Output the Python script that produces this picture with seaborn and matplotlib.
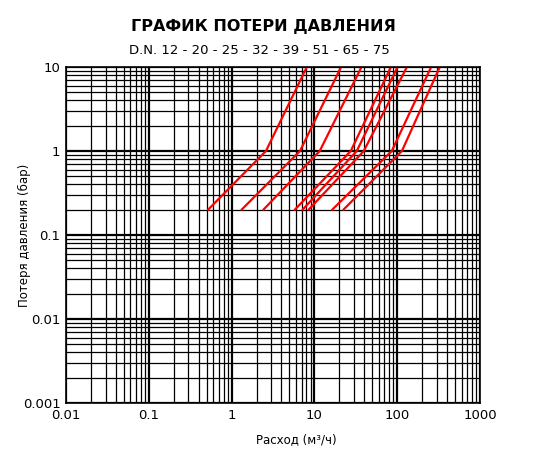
import numpy as np
import pandas as pd
import matplotlib
matplotlib.use("Agg")
import matplotlib.pyplot as plt
import seaborn as sns
from matplotlib.ticker import LogLocator, FixedLocator, FixedFormatter
from matplotlib import font_manager

# nominal diameters
dn = [12, 20, 25, 32, 39, 51, 65, 75]
# each curve: pressure loss points (bar) and flow at those points (m3/h)
pressure = [0.2, 1.0, 10.0]
flow_start = [0.52, 1.32, 2.42, 5.8, 7.2, 8.5, 16.4, 22.4]
flow_knee = [2.6, 6.7, 11.6, 27.5, 32.5, 39.5, 86, 114]
flow_top = [8.1, 21, 37, 84, 101, 131, 257, 327]

x_ticks = [0.01, 0.1, 1, 10, 100, 1000]
x_labels = ["0.01", "0.1", "1", "10", "100", "1000"]
y_ticks = [0.001, 0.01, 0.1, 1, 10]
y_labels = ["0.001", "0.01", "0.1", "1", "10"]

rows = []
for i, d in enumerate(dn):
    for p, q in zip(pressure, [flow_start[i], flow_knee[i], flow_top[i]]):
        rows.append({"DN": str(d), "Flow": q, "Loss": p})
df = pd.DataFrame(rows)

sns.set_style("white")
plt.rcParams['font.family'] = ['DejaVu Sans']
plt.rcParams['text.color'] = 'black'
plt.rcParams['axes.labelcolor'] = 'black'
plt.rcParams['xtick.color'] = 'black'
plt.rcParams['ytick.color'] = 'black'

installed = {f.name for f in font_manager.fontManager.ttflist}
title_family = "DejaVu Sans"
for cand in ["Liberation Sans Narrow", "DejaVu Sans Condensed"]:
    if cand in installed:
        title_family = cand
        break

fig = plt.figure(figsize=(5.33, 4.51), dpi=100)
ax = fig.add_axes([66 / 533, 1 - 403 / 451, 414 / 533, 336 / 451])

ax.set_xscale("log")
ax.set_yscale("log")
ax.set_xlim(0.01, 1000)
ax.set_ylim(0.001, 10)

ax.xaxis.set_major_locator(FixedLocator(x_ticks))
ax.xaxis.set_major_formatter(FixedFormatter(x_labels))
ax.yaxis.set_major_locator(FixedLocator(y_ticks))
ax.yaxis.set_major_formatter(FixedFormatter(y_labels))
ax.xaxis.set_minor_locator(LogLocator(base=10, subs=np.arange(2, 10)))
ax.yaxis.set_minor_locator(LogLocator(base=10, subs=np.arange(2, 10)))
ax.xaxis.set_minor_formatter(plt.NullFormatter())
ax.yaxis.set_minor_formatter(plt.NullFormatter())

ax.grid(True, which="major", color="black", linewidth=1.6)
ax.grid(True, which="minor", color="black", linewidth=0.9)
ax.tick_params(which="both", length=0)
ax.tick_params(axis="both", labelsize=9.5, pad=4)
for s in ax.spines.values():
    s.set_color("black")
    s.set_linewidth(1.2)

sns.lineplot(data=df, x="Flow", y="Loss", hue="DN", units="DN", estimator=None,
             sort=False, palette=["#ff0000"] * len(dn), linewidth=1.6,
             legend=False, ax=ax)

ax.set_xlabel("Расход (м³/ч)", fontsize=8.5)
ax.xaxis.set_label_coords(0.556, -0.09)
ax.set_ylabel("Потеря давления (бар)", fontsize=8.5)
ax.yaxis.set_label_coords(-0.085, 0.5)

title_size = 13.5 if title_family != "DejaVu Sans" else 11.5
fig.text(263 / 533, 1 - 27 / 451, "ГРАФИК ПОТЕРИ ДАВЛЕНИЯ",
         family=title_family, fontweight="bold",
         fontsize=title_size, ha="center", va="center")
fig.text(259 / 533, 1 - 50 / 451, "D.N. 12 - 20 - 25 - 32 - 39 - 51 - 65 - 75",
         fontsize=9.5, ha="center", va="center")

fig.savefig("out.png", dpi=100)
